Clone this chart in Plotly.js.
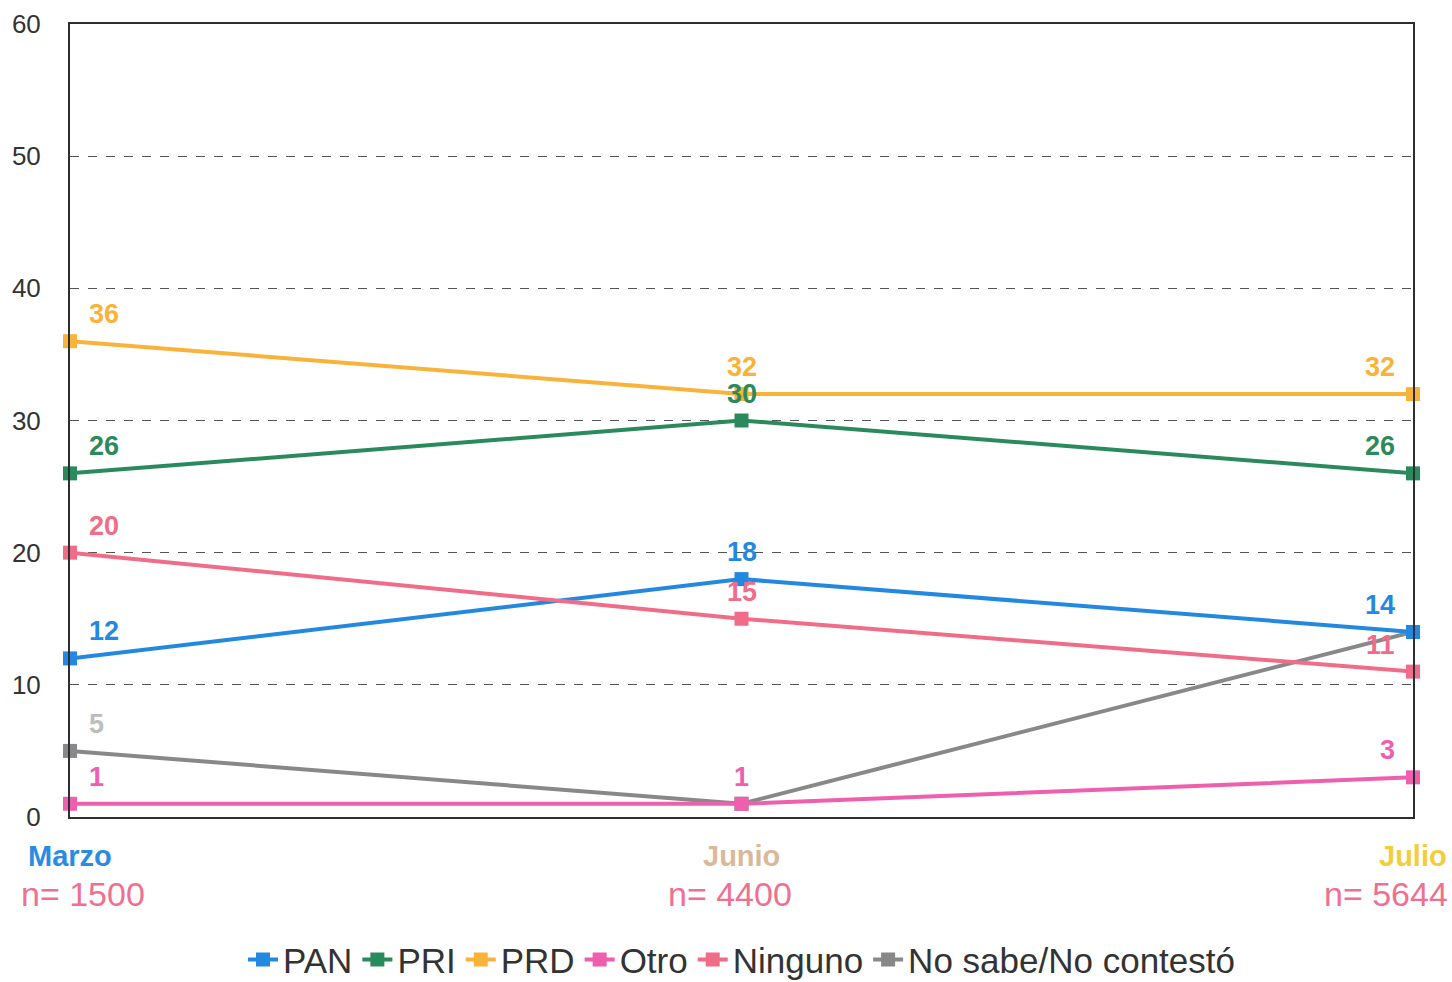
<!DOCTYPE html>
<html>
<head>
<meta charset="utf-8">
<script src="https://cdn.plot.ly/plotly-3.0.1.min.js"></script>
<style>html,body{margin:0;padding:0;background:#fff;}#chart{width:1452px;height:982px;}</style>
</head>
<body>
<div id="chart"></div>
<script>
const months = ["Marzo", "Junio", "Julio"];
const sampleSizes = ["n= 1500", "n= 4400", "n= 5644"];
const seriesNames = ["PAN", "PRI", "PRD", "Otro", "Ninguno", "No sabe/No contestó"];
const pan = [12, 18, 14];
const pri = [26, 30, 26];
const prd = [36, 32, 32];
const otro = [1, 1, 3];
const ninguno = [20, 15, 11];
const noSabe = [5, 1, 14];
const yTicks = [0, 10, 20, 30, 40, 50, 60];

const seriesValues = [pan, pri, prd, otro, ninguno, noSabe];
const lineColors = ["#2389e0", "#2b8a5c", "#f9b23a", "#ee5fae", "#f06c88", "#888888"];
const labelColors = ["#2389e0", "#2b8a5c", "#f9b23a", "#ee5fae", "#f06c88", "#bdbdbd"];
const showLabel = [[1,1,1],[1,1,1],[1,1,1],[1,1,1],[1,1,1],[1,0,0]];
const monthColors = ["#2a8ce0", "#d9b99a", "#f3cd3a"];
const nShift = [13, -12, -27];
const drawOrder = [5, 0, 1, 2, 3, 4];

const font = "Liberation Sans, Arial, sans-serif";

const traces = drawOrder.map(i => ({
  x: months,
  y: seriesValues[i],
  name: seriesNames[i],
  type: "scatter",
  mode: "lines+markers",
  line: {color: lineColors[i], width: 4},
  marker: {symbol: "square", size: 14, color: lineColors[i]},
  cliponaxis: false,
  legendrank: i + 1
}));

const annotations = [];
seriesValues.forEach((vals, s) => {
  vals.forEach((v, k) => {
    if (!showLabel[s][k]) return;
    annotations.push({
      x: months[k], y: v, xref: "x", yref: "y",
      text: "<b>" + v + "</b>", showarrow: false,
      font: {family: font, size: 27, color: labelColors[s]},
      xanchor: k === 0 ? "left" : (k === 2 ? "right" : "center"),
      yanchor: "middle",
      xshift: k === 0 ? 17 : (k === 2 ? -16 : 0),
      yshift: 27
    });
  });
});
months.forEach((m, k) => {
  annotations.push({
    x: m, y: 0, xref: "x", yref: "paper", text: "<b>" + m + "</b>",
    showarrow: false, xanchor: "center", yanchor: "middle", yshift: -39,
    font: {family: font, size: 29, color: monthColors[k]}
  });
  annotations.push({
    x: m, y: 0, xref: "x", yref: "paper", text: sampleSizes[k],
    showarrow: false, xanchor: "center", yanchor: "middle", yshift: -77, xshift: nShift[k],
    font: {family: font, size: 34, color: "#f07090"}
  });
});

const layout = {
  width: 1452, height: 982,
  margin: {l: 70, r: 39, t: 24, b: 165, autoexpand: false},
  paper_bgcolor: "#ffffff", plot_bgcolor: "#ffffff",
  font: {family: font, color: "#333333"},
  showlegend: true,
  legend: {
    orientation: "h", x: 0.5, xanchor: "center", y: -0.18, yanchor: "middle",
    font: {family: font, size: 35, color: "#333333"},
    traceorder: "normal", itemwidth: 30
  },
  xaxis: {
    type: "category", range: [0, 2], showticklabels: false, showgrid: false,
    zeroline: false, showline: true, mirror: true, linecolor: "#2b2f33", linewidth: 2,
    ticks: ""
  },
  yaxis: {
    range: [0, 60], tickvals: yTicks, showgrid: true, gridcolor: "#555555",
    griddash: "dash", gridwidth: 1, zeroline: false, showline: true, mirror: true,
    linecolor: "#2b2f33", linewidth: 2, ticks: "", ticklabelstandoff: 22,
    tickfont: {family: font, size: 26, color: "#333333"}
  },
  annotations: annotations
};

Plotly.newPlot("chart", traces, layout, {displayModeBar: false, staticPlot: true});
</script>
</body>
</html>
